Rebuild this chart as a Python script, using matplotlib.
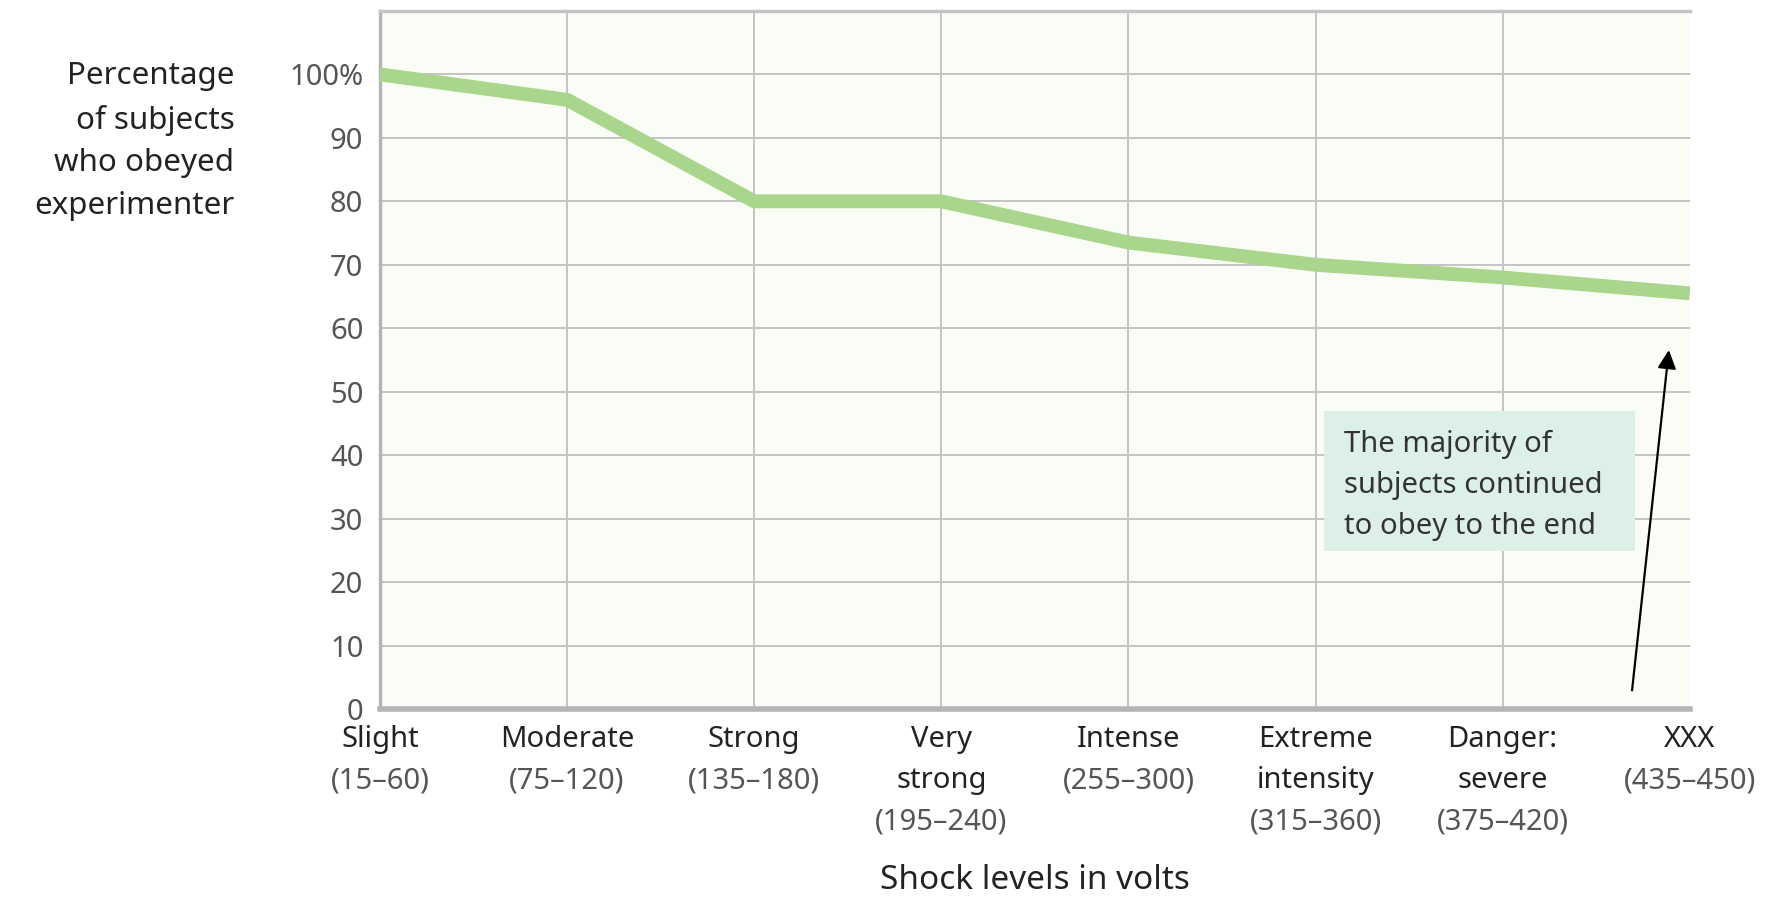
import matplotlib.pyplot as plt
from matplotlib.patches import Rectangle

# データ (Milgram obedience chart)
levels = ["Slight", "Moderate", "Strong", "Very\nstrong", "Intense",
          "Extreme\nintensity", "Danger:\nsevere", "XXX"]
volt_ranges = ["(15–60)", "(75–120)", "(135–180)", "(195–240)", "(255–300)",
               "(315–360)", "(375–420)", "(435–450)"]
pct_obeyed = [100, 96, 80, 80, 73.5, 70, 68, 65.5]
y_ticks = [0, 10, 20, 30, 40, 50, 60, 70, 80, 90, 100]
y_ticklabels = ["0", "10", "20", "30", "40", "50", "60", "70", "80", "90", "100%"]
note_text = "The majority of\nsubjects continued\nto obey to the end"

plt.rcParams['font.family'] = ['Noto Sans', 'DejaVu Sans']

fig = plt.figure(figsize=(17.9, 8.98), dpi=100)
ax = fig.add_axes([0.2123, 0.2105, 0.7317, 0.7773])
ax.set_facecolor("#fafdf6")

x = list(range(len(levels)))
ax.set_xlim(0, len(levels) - 1)
ax.set_ylim(0, 110)

# グリッド
for yv in y_ticks[1:]:
    ax.axhline(yv, color="#c4c4c4", lw=1.4, zorder=1)
for xv in x[1:-1]:
    ax.axvline(xv, color="#c4c4c4", lw=1.4, zorder=1)

ax.plot(x, pct_obeyed, color="#a9d68c", lw=10, solid_capstyle="butt",
        solid_joinstyle="round", zorder=3)

ax.spines["right"].set_visible(False)
ax.spines["top"].set_color("#c4c4c4")
ax.spines["top"].set_linewidth(2.5)
ax.spines["left"].set_color("#b5b5b5")
ax.spines["left"].set_linewidth(2.5)
ax.spines["bottom"].set_color("#b5b5b5")
ax.spines["bottom"].set_linewidth(4)

ax.set_yticks(y_ticks)
ax.set_yticklabels(y_ticklabels, fontsize=21, color="#555555")
ax.tick_params(axis="y", length=0, pad=12)
ax.set_xticks([])

# x軸ラベル（名前＋電圧範囲）、1行ずつ配置
trans = ax.get_xaxis_transform()
first = -0.0444
step = 0.0587
for xi, name, rng in zip(x, levels, volt_ranges):
    rows = name.split("\n")
    for k, row in enumerate(rows):
        ax.text(xi, first - step * k, row, transform=trans, ha="center", va="center",
                fontsize=21, color="#222222", clip_on=False)
    ax.text(xi, first - step * len(rows), rng, transform=trans, ha="center",
            va="center", fontsize=21, color="#555555", clip_on=False)

fig.text(0.578, 0.02, "Shock levels in volts", ha="center", va="center",
         fontsize=24, color="#222222")

fig.text(0.131, 0.932, "Percentage\nof subjects\nwho obeyed\nexperimenter",
         ha="right", va="top", fontsize=22.5, color="#222222", linespacing=1.56)

# 注釈ボックス
ax.add_patch(Rectangle((5.045, 24.9), 1.665, 22.0, facecolor="#ddf0e8",
                       edgecolor="none", zorder=4))
ax.text(5.15, 44.0, note_text, ha="left", va="top", fontsize=21,
        color="#333333", linespacing=1.55, zorder=5)

ax.annotate("", xy=(6.89, 57.0), xytext=(6.69, 2.5),
            arrowprops=dict(arrowstyle="-|>", color="black", lw=1.6,
                            mutation_scale=28), zorder=6)

fig.savefig("out.png", dpi=100, facecolor="white")
